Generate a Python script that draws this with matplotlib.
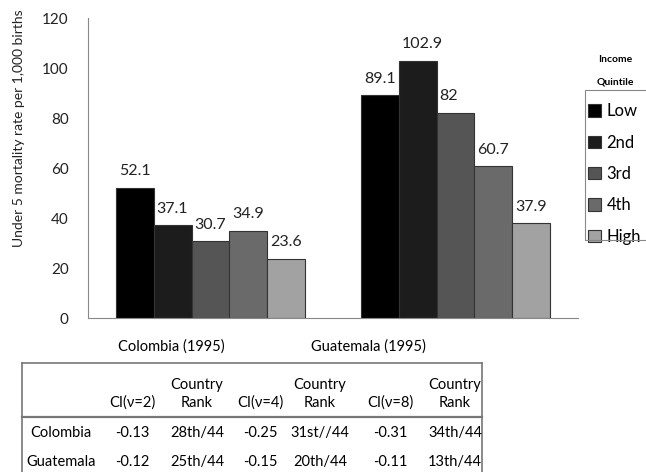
import matplotlib
matplotlib.use("Agg")
from matplotlib import pyplot as plt
from matplotlib.patches import Rectangle

plt.rcParams['font.family'] = ['Lato', 'DejaVu Sans']

# data
paesi = ["Colombia (1995)", "Guatemala (1995)"]
quintili = ["Low", "2nd", "3rd", "4th", "High"]
colombia = [52.1, 37.1, 30.7, 34.9, 23.6]
guatemala = [89.1, 102.9, 82, 60.7, 37.9]
colori = ["#000000", "#1c1c1c", "#555555", "#6a6a6a", "#a2a2a2"]

righe = ["Colombia", "Guatemala"]
intestazioni = ["CI(\u03bd=2)", "Country\nRank", "CI(\u03bd=4)", "Country\nRank",
                "CI(\u03bd=8)", "Country\nRank"]
valori_col = ["-0.13", "28th/44", "-0.25", "31st//44", "-0.31", "34th/44"]
valori_gua = ["-0.12", "25th/44", "-0.15", "20th/44", "-0.11", "13th/44"]

W, H = 646, 472
fig = plt.figure(figsize=(W / 100, H / 100), dpi=100)
ax = fig.add_axes([88 / W, 1 - 318 / H, 490 / W, 300 / H])

larg = 0.154
for i, q in enumerate(quintili):
    xs = [g + (i - 2) * larg for g in range(len(paesi))]
    hs = [colombia[i], guatemala[i]]
    ax.bar(xs, hs, width=larg, color=colori[i], edgecolor="#333333",
           linewidth=0.8, label=q)
    for x, h in zip(xs, hs):
        ax.annotate("{:g}".format(h), xy=(x - larg / 2, h), xytext=(2, 12),
                    textcoords="offset points", ha="left", va="center",
                    fontsize=11.5, color="#222222")

ax.set_xlim(-0.5, 1.5)
ax.set_ylim(0, 120)
ax.set_yticks(range(0, 121, 20))
ax.set_xticks([])
ax.tick_params(axis="y", length=0, pad=14, labelsize=11, labelcolor="#222222")
for s in ["top", "right"]:
    ax.spines[s].set_visible(False)
for s in ["left", "bottom"]:
    ax.spines[s].set_color("#888888")
ax.set_ylabel("Under 5 mortality rate per 1,000 births", fontsize=10,
              color="#222222")
ax.yaxis.set_label_coords(-0.128, 0.633)

# etichette delle categorie
fig.text(171 / W, 1 - 347 / H, paesi[0], ha="center", va="center", fontsize=10.5)
fig.text(368 / W, 1 - 347 / H, paesi[1], ha="center", va="center", fontsize=10.5)

# legenda (cornice disegnata a parte)
leg = ax.legend(loc="upper left", bbox_to_anchor=(585 / W, 1 - 100 / H),
                bbox_transform=fig.transFigure, fontsize=12, frameon=False,
                handlelength=0.75, handleheight=0.75,
                handletextpad=0.35, labelspacing=0.92, borderpad=0.2,
                borderaxespad=0)
fig.patches.append(Rectangle((585 / W, 1 - 240 / H), 70 / W, 150 / H,
                             transform=fig.transFigure, fill=False,
                             edgecolor="#888888", linewidth=0.8))
fig.text(615 / W, 1 - 60 / H, "Income", ha="center", va="center",
         fontsize=7.5, fontweight="bold")
fig.text(615 / W, 1 - 82 / H, "Quintile", ha="center", va="center",
         fontsize=7.5, fontweight="bold")

# tabella
tb = fig.add_axes([0, 0, 1, 1])
tb.set_xlim(0, W)
tb.set_ylim(H, 0)
tb.axis("off")
tb.plot([22, 482], [363, 363], color="#777777", lw=1.2)
tb.plot([22, 22], [363, H], color="#777777", lw=1.2)
tb.plot([482, 482], [363, H], color="#777777", lw=1.2)
tb.plot([22, 482], [417, 417], color="#777777", lw=1.6)

col_x = [132, 197, 260, 320, 390, 455]
for x, t in zip(col_x, intestazioni):
    tb.text(x, 410, t, ha="center", va="bottom", fontsize=10.5,
            linespacing=1.4)
tb.text(61, 433, righe[0], ha="center", va="center", fontsize=10.5)
tb.text(61, 462, righe[1], ha="center", va="center", fontsize=10.5)
for x, a, b in zip(col_x, valori_col, valori_gua):
    tb.text(x, 433, a, ha="center", va="center", fontsize=10.5)
    tb.text(x, 462, b, ha="center", va="center", fontsize=10.5)

fig.savefig("out.png", dpi=100)
